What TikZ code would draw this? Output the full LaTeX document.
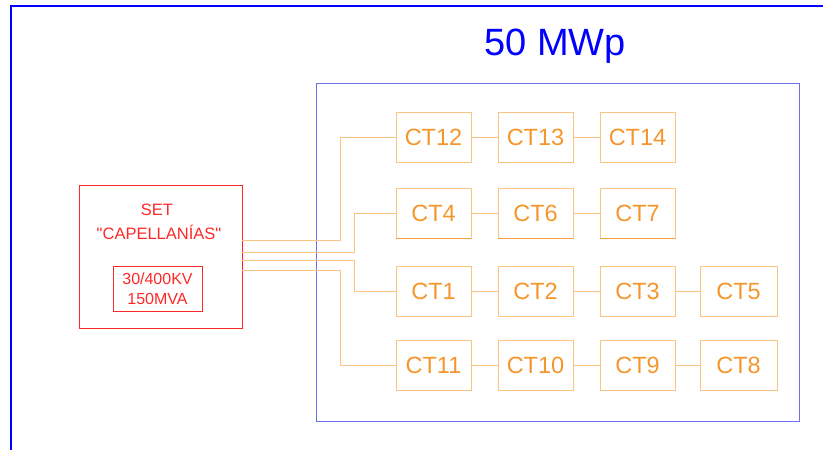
\documentclass[tikz,border=0pt]{standalone}
\usepackage{fontspec}
\setmainfont{Liberation Sans}[Ligatures=TeXOff]
\definecolor{frameblue}{RGB}{0,0,255}
\definecolor{areablue}{RGB}{110,110,240}
\definecolor{setred}{RGB}{255,40,40}
\definecolor{ctline}{RGB}{252,196,130}
\definecolor{cttext}{RGB}{245,150,45}
\begin{document}
\begin{tikzpicture}[x=1pt,y=-1pt,
  ctbox/.style={draw=ctline, line width=0.9pt, minimum width=75pt, minimum height=50pt,
    inner sep=0pt, text=cttext, font=\fontsize{23.5}{25}\selectfont},
  wire/.style={draw=ctline, line width=0.9pt},
  setbox/.style={draw=setred, line width=0.9pt, inner sep=0pt},
  settext/.style={text=setred, font=\fontsize{16.5}{18}\selectfont, inner sep=0pt}]
\useasboundingbox (0,0) rectangle (823,450);
% outer frame
\draw[frameblue, line width=1.5pt] (11,450) -- (11,6) -- (823,6);
% area
\node[draw=areablue, line width=1pt, minimum width=483pt, minimum height=338pt, inner sep=0pt] (area) at (557.5,252) {};
\node[text=frameblue, font=\fontsize{38}{40}\selectfont, inner sep=0pt] (title) at (555,46) {50 MWp};
% SET
\node[setbox, minimum width=163pt, minimum height=143pt] (set) at (160.5,256.5) {};
\node[settext] (t1) at (157,210) {SET};
\node[settext] (t2) at (159,232) {"CAPELLANÍAS"};
\node[setbox, minimum width=89pt, minimum height=45pt] (inner) at (157.5,288.5) {};
\node[settext, align=center, font=\fontsize{16}{20}\selectfont] (t3) at (157.5,288.5) {30/400KV\\150MVA};
% CT boxes
\node[ctbox] (ct12) at (433.5,137.5) {CT12};
\node[ctbox] (ct13) at (535.5,137.5) {CT13};
\node[ctbox] (ct14) at (637.5,137.5) {CT14};
\node[ctbox] (ct4) at (433.5,213) {CT4};
\node[ctbox] (ct6) at (535.5,213) {CT6};
\node[ctbox] (ct7) at (637.5,213) {CT7};
\node[ctbox] (ct1) at (433.5,291) {CT1};
\node[ctbox] (ct2) at (535.5,291) {CT2};
\node[ctbox] (ct3) at (637.5,291) {CT3};
\node[ctbox, minimum width=77pt] (ct5) at (738.5,291) {CT5};
\node[ctbox] (ct11) at (433.5,365) {CT11};
\node[ctbox] (ct10) at (535.5,365) {CT10};
\node[ctbox] (ct9) at (637.5,365) {CT9};
\node[ctbox, minimum width=77pt] (ct8) at (738.5,365) {CT8};
% thicker bottoms on row 2
\foreach \n in {ct4,ct6,ct7}{\draw[cttext!80!ctline, line width=1.6pt] (\n.south west) -- (\n.south east);}
% row links
\draw[wire] (ct12) -- (ct13) (ct13) -- (ct14);
\draw[wire] (ct4) -- (ct6) (ct6) -- (ct7);
\draw[wire] (ct1) -- (ct2) (ct2) -- (ct3) (ct3) -- (ct5);
\draw[wire] (ct11) -- (ct10) (ct10) -- (ct9) (ct9) -- (ct8);
% feeders
\draw[wire] ([yshift=16.5pt]set.east) -- ++(98,0) |- (ct12.west);
\draw[wire] ([yshift=4.5pt]set.east) -- ++(112,0) |- (ct4.west);
\draw[wire] ([yshift=-3.5pt]set.east) -- ++(112,0) |- (ct1.west);
\draw[wire] ([yshift=-13.5pt]set.east) -- ++(98,0) |- (ct11.west);
\end{tikzpicture}
\end{document}
